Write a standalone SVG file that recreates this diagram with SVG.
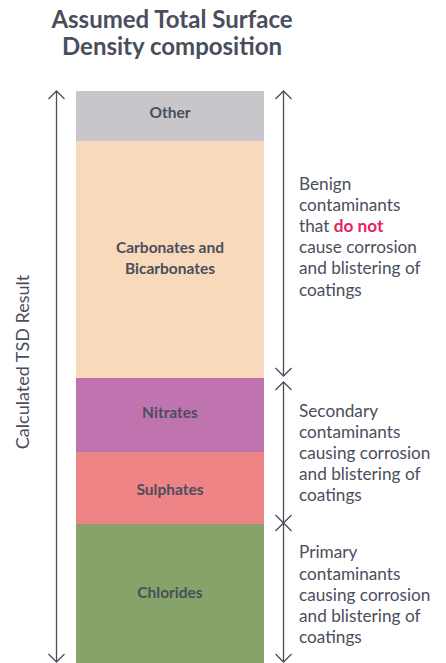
<svg xmlns="http://www.w3.org/2000/svg" width="446" height="663" viewBox="0 0 446 663">
<defs>
<style>
.t{font-family:Lato,"Open Sans",sans-serif;fill:#4a4e5c}
.title{font-size:24px;font-weight:700;text-anchor:middle}
.lbl{font-size:15.5px;font-weight:700;text-anchor:middle}
.desc{font-size:17.2px}
.hl{fill:#e3245e;font-weight:700}
.ax{stroke:#4a4e5c;stroke-width:1.3;fill:none}
</style>
<marker id="ah" viewBox="0 0 20 20" refX="10" refY="10" markerWidth="20" markerHeight="20" markerUnits="userSpaceOnUse" orient="auto-start-reverse">
<path d="M2 2 L10 10 L2 18" fill="none" stroke="#4a4e5c" stroke-width="1.3"/>
</marker>
</defs>
<rect width="446" height="663" fill="#ffffff"/>
<text class="t title" x="172" y="28">Assumed Total Surface</text>
<text class="t title" x="172" y="55">Density composition</text>
<g id="other"><rect x="76" y="91" width="188" height="50" fill="#c8c6cb"/><text class="t lbl" x="170" y="118">Other</text></g>
<g id="carbonates"><rect x="76" y="141" width="188" height="237" fill="#f9d9bb"/><text class="t lbl" x="170" y="253">Carbonates and</text><text class="t lbl" x="170" y="274">Bicarbonates</text></g>
<g id="nitrates"><rect x="76" y="378" width="188" height="74" fill="#bf74b0"/><text class="t lbl" x="170" y="418">Nitrates</text></g>
<g id="sulphates"><rect x="76" y="452" width="188" height="72" fill="#ef8487"/><text class="t lbl" x="170" y="495">Sulphates</text></g>
<g id="chlorides"><rect x="76" y="524" width="188" height="139" fill="#87a36a"/><text class="t lbl" x="170" y="598">Chlorides</text></g>
<g id="connectors">
<line class="ax" x1="56.5" y1="91" x2="56.5" y2="662" marker-start="url(#ah)" marker-end="url(#ah)"/>
<line class="ax" x1="283.5" y1="91" x2="283.5" y2="376" marker-start="url(#ah)" marker-end="url(#ah)"/>
<line class="ax" x1="283.5" y1="382" x2="283.5" y2="523" marker-start="url(#ah)" marker-end="url(#ah)"/>
<line class="ax" x1="283.5" y1="523" x2="283.5" y2="662" marker-start="url(#ah)" marker-end="url(#ah)"/>
</g>
<g id="axis-label"><text class="t" x="0" y="0" transform="translate(29 362) rotate(-90)" style="font-size:18px;text-anchor:middle">Calculated TSD Result</text></g>
<g id="benign"><text class="t desc"><tspan x="299" y="190">Benign</tspan><tspan x="299" y="211">contaminants</tspan><tspan x="299" y="232">that <tspan class="hl">do not</tspan></tspan><tspan x="299" y="253">cause corrosion</tspan><tspan x="299" y="274">and blistering of</tspan><tspan x="299" y="296">coatings</tspan></text></g>
<g id="secondary"><text class="t desc"><tspan x="299" y="417">Secondary</tspan><tspan x="299" y="438">contaminants</tspan><tspan x="299" y="459">causing corrosion</tspan><tspan x="299" y="480">and blistering of</tspan><tspan x="299" y="501">coatings</tspan></text></g>
<g id="primary"><text class="t desc"><tspan x="299" y="558">Primary</tspan><tspan x="299" y="580">contaminants</tspan><tspan x="299" y="601">causing corrosion</tspan><tspan x="299" y="622">and blistering of</tspan><tspan x="299" y="643">coatings</tspan></text></g>
</svg>
